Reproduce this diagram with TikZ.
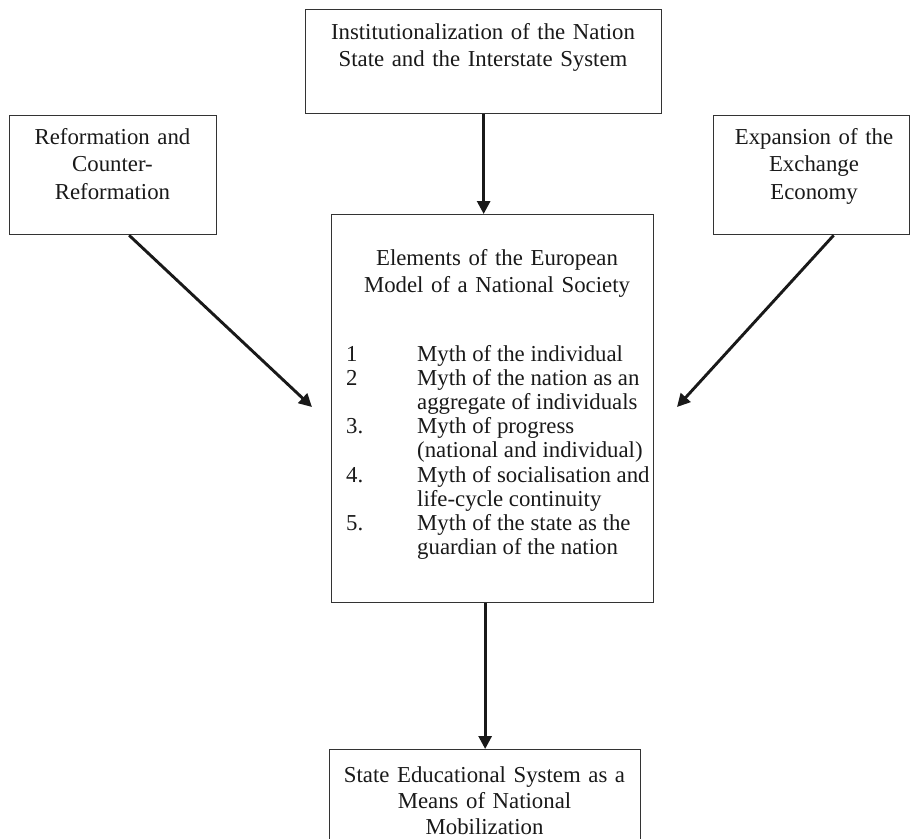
\documentclass[tikz,border=0pt]{standalone}
\usepackage{fontspec}
\setmainfont{Liberation Serif}
\usetikzlibrary{arrows.meta}

\begin{document}
\begin{tikzpicture}[x=1pt, y=-1pt, >={Triangle[length=13pt, width=13pt]}]
  \tikzset{
    frame/.style={draw=black!80, line width=1.3pt, inner sep=0pt, anchor=north west},
    caption/.style={anchor=base, inner sep=0pt, align=center, text=black!90,
      font=\fontsize{22.8}{27.5}\selectfont},
    link/.style={->, line width=2.9pt, black!90},
  }
  \clip (0,0) rectangle (912,838);
  % ---------- the five frames ----------
  \node[frame, minimum width=356pt, minimum height=104pt] (inst) at (305,9) {};
  \node[frame, minimum width=207pt, minimum height=119pt] (reform) at (9,115) {};
  \node[frame, minimum width=196pt, minimum height=119pt] (econ) at (713,115) {};
  \node[frame, minimum width=322pt, minimum height=388pt] (elements) at (331,214) {};
  \node[frame, minimum width=311pt, minimum height=130pt] (state) at (329,749) {};
  % ---------- their texts ----------
  \node[caption, text width=340pt] (insttext) at (483,39)
    {Institutionalization of the Nation\\State and the Interstate System};
  \node[caption, text width=200pt] (reformtext) at (112.5,144)
    {Reformation and\\Counter-\\Reformation};
  \node[caption, text width=190pt] (econtext) at (814,144)
    {Expansion of the\\Exchange\\Economy};
  \node[caption, text width=310pt] (elemtitle) at (497,265)
    {Elements of the European\\Model of a National Society};
  \node[caption, anchor=base west, align=left, font=\fontsize{22.8}{24.2}\selectfont] (mythlist) at (346,361)
    {\begin{tabular}[t]{@{}p{71pt}@{}l@{}}
      1  & Myth of the individual\\
      2  & Myth of the nation as an\\
         & aggregate of individuals\\
      3. & Myth of progress\\
         & (national and individual)\\
      4. & Myth of socialisation and\\
         & life-cycle continuity\\
      5. & Myth of the state as the\\
         & guardian of the nation
    \end{tabular}};
  \node[caption, text width=300pt, font=\fontsize{22.8}{26}\selectfont] (statetext) at (484.5,782)
    {State Educational System as a\\Means of National\\Mobilization};
  % ---------- connectors ----------
  \coordinate (reformtip) at (312,407);
  \coordinate (econtip) at (677,407);
  \draw[link] (inst.south) -- (inst.south |- elements.north);
  \draw[link] ([xshift=16pt]reform.south) -- (reformtip);
  \draw[link] ([xshift=22pt]econ.south) -- (econtip);
  \draw[link] (state.north |- elements.south) -- (state.north);
\end{tikzpicture}
\end{document}
